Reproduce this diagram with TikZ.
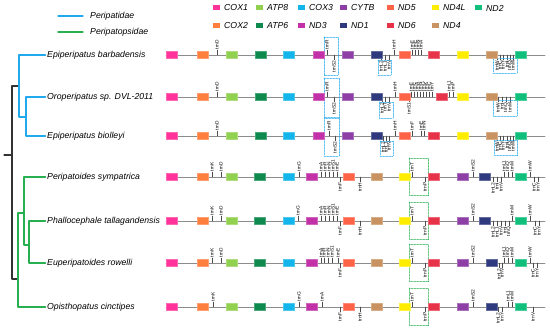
\documentclass[tikz,border=0pt]{standalone}
\usepackage{fontspec}
\setmainfont{Liberation Sans}
\definecolor{COX1}{HTML}{FF339A}
\definecolor{COX2}{HTML}{FF7F3F}
\definecolor{ATP8}{HTML}{92D050}
\definecolor{ATP6}{HTML}{0E8A4E}
\definecolor{COX3}{HTML}{13B5EA}
\definecolor{ND3}{HTML}{C231A8}
\definecolor{CYTB}{HTML}{8E3FA6}
\definecolor{ND1}{HTML}{2F3A7E}
\definecolor{ND5}{HTML}{FF6347}
\definecolor{ND6}{HTML}{E63347}
\definecolor{ND4L}{HTML}{FFED00}
\definecolor{ND4}{HTML}{C99261}
\definecolor{ND2}{HTML}{10BF7C}
\definecolor{pblue}{HTML}{21A9F0}
\definecolor{pgreen}{HTML}{26B050}
\begin{document}
\begin{tikzpicture}[x=1pt, y=-1pt, line join=round, line cap=round,
	font=\fontsize{8.7}{10}\selectfont\itshape,
	gene/.style={fill=#1, draw=#1!75!white, line width=.4pt, minimum width=11pt, minimum height=7pt, inner sep=0pt, anchor=west},
	legbox/.style={fill=#1, minimum width=6.5pt, minimum height=5pt, inner sep=0pt, anchor=west},
	trn/.style={draw=black!70, line width=.4pt},
	trnup/.style={anchor=west, rotate=90, inner sep=.5pt, font=\fontsize{4.8}{5}\selectfont},
	trndn/.style={anchor=east, rotate=90, inner sep=.5pt, font=\fontsize{4.8}{5}\selectfont},
	dotbox/.style={densely dotted, draw=#1, line width=.5pt},
	backbone/.style={draw=black!45, line width=.9pt},
	tree/.style={line width=1.1pt}]
	\useasboundingbox (0,0) rectangle (550,331);
	
	% legends
	\node[anchor=west, inner sep=0pt] (lgA) at (90,16) {Peripatidae};
	\node[anchor=west, inner sep=0pt] (lgB) at (90,32) {Peripatopsidae};
	\coordinate (la) at (58,16);
	\coordinate (lb) at (58,32);
	\draw[draw=pblue, line width=1.2pt] (la) -- ([xshift=-7pt]lgA.west);
	\draw[draw=pgreen, line width=1.2pt] (lb) -- ([xshift=-7pt]lgB.west);
	\foreach \g/\x/\y in {COX1/213/8, ATP8/256/8, COX3/298/8, CYTB/340/8, ND5/387/8, ND4L/432/8, ND2/475/8,
		COX2/213/26, ATP6/256/26, ND3/298/26, ND1/340/26, ND6/387/26, ND4/432/26}
	{\node[legbox=\g] (k\g) at (\x,\y) {};
	\node[anchor=west, inner sep=0pt] (l\g) at ([xshift=11pt]k\g.west) {\g};}
	
	% tree
	\foreach \n/\s/\y in {sp1/Epiperipatus barbadensis/55, sp2/Oroperipatus sp. DVL-2011/97,
		sp3/Epiperipatus biolleyi/136, sp4/Peripatoides sympatrica/177, sp5/Phallocephale tallagandensis/221,
		sp6/Euperipatoides rowelli/263, sp7/Opisthopatus cinctipes/307}
	\node[anchor=west, inner sep=1.5pt] (\n) at (45.5,\y) {\s};
	\coordinate (rt) at (4,155);
	\coordinate (n0) at (12,155);
	\coordinate (b1) at (19,86);
	\coordinate (b2) at (26,117);
	\coordinate (g1) at (18,279);
	\coordinate (g2) at (24,213);
	\coordinate (g3) at (29,245);
	\draw[tree, black!80] (rt) -- (n0) (b1) -| (n0) |- (g1);
	\draw[tree, pblue] (sp1.west) -| (b1) |- (b2);
	\draw[tree, pblue] (sp2.west) -| (b2) |- (sp3.west);
	\draw[tree, pgreen] (g2) -| (g1) |- (sp7.west);
	\draw[tree, pgreen] (sp4.west) -| (g2) |- (g3);
	\draw[tree, pgreen] (sp5.west) -| (g3) |- (sp6.west);
	
	% gene maps
	\foreach \r/\y in {1/55,2/97,3/136,4/177,5/221,6/263,7/307}
	{\coordinate (s\r) at (166,\y);
	\coordinate (e\r) at (545,\y);
	\draw[backbone] (s\r) -- (e\r);}
	
	\foreach \x/\t in {217/trnD,327/trnR,394/trnH,412/trnF,415/trnE,418/trnN,421/trnA}
	\draw[trn] (\x,55) -- ++(0,-5) node[trnup] (u1-\x) {\t};
	\foreach \x/\t in {334/trnS2,381/trnL2,385/trnL1,389/trnV,497/trnW,500/trnC,503/trnY,507/trnI,510/trnQ,513/trnM}
	\draw[trn] (\x,55) -- ++(0,5) node[trndn] (d1-\x) {\t};
	
	\foreach \x/\t in {217/trnD,327/trnR,395/trnH,411/trnF,414/trnE,417/trnA,420/trnN,423/trnG,426/trnK,429/trnC,432/trnY,449/trnL1,453/trnP}
	\draw[trn] (\x,97) -- ++(0,-5) node[trnup] (u2-\x) {\t};
	\foreach \x/\t in {334/trnS2,382/trnL2,385/trnT,389/trnV,409/trnS1,498/trnW,502/trnI,506/trnQ,510/trnM}
	\draw[trn] (\x,97) -- ++(0,5) node[trndn] (d2-\x) {\t};
	
	\foreach \x/\t in {217/trnD,329/trnR,395/trnH,412/trnF,421/trnE,424/trnN}
	\draw[trn] (\x,136) -- ++(0,-5) node[trnup] (u3-\x) {\t};
	\foreach \x/\t in {335/trnS2,383/trnL2,386/trnL1,389/trnV,497/trnW,500/trnC,503/trnY,507/trnI,510/trnQ,513/trnM}
	\draw[trn] (\x,136) -- ++(0,5) node[trndn] (d3-\x) {\t};
	
	\foreach \x/\t in {212/trnK,221/trnD,299/trnG,321/trnA,325/trnR,329/trnN,333/trnS1,337/trnE,412/trnT,473/trnS2,504/trnL1,508/trnQ,512/trnM,530/trnW}
	\draw[trn] (\x,177) -- ++(0,-5) node[trnup] (u4-\x) {\t};
	\foreach \x/\t in {340/trnF,360/trnH,425/trnP,493/trnL2,497/trnI,501/trnV,534/trnC,538/trnY}
	\draw[trn] (\x,177) -- ++(0,5) node[trndn] (d4-\x) {\t};
	
	\foreach \x/\t in {212/trnK,221/trnD,298/trnG,321/trnA,325/trnR,329/trnN,333/trnS1,337/trnE,412/trnT,473/trnS2,512/trnM,530/trnW}
	\draw[trn] (\x,221) -- ++(0,-5) node[trnup] (u5-\x) {\t};
	\foreach \x/\t in {340/trnF,360/trnH,425/trnP,493/trnL2,497/trnL1,501/trnV,505/trnI,509/trnQ,535/trnC,539/trnY}
	\draw[trn] (\x,221) -- ++(0,5) node[trndn] (d5-\x) {\t};
	
	\foreach \x/\t in {212/trnK,221/trnD,321/trnA,324/trnR,328/trnN,332/trnS1,338/trnE,412/trnT,473/trnS2,504/trnL1,508/trnQ,512/trnM,530/trnW}
	\draw[trn] (\x,263) -- ++(0,-5) node[trnup] (u6-\x) {\t};
	\foreach \x/\t in {340/trnF,425/trnP,499/trnL2,502/trnV,533/trnC,537/trnY}
	\draw[trn] (\x,263) -- ++(0,5) node[trndn] (d6-\x) {\t};
	
	\foreach \x/\t in {213/trnK,299/trnG,322/trnA,412/trnT,473/trnS2,508/trnL1,512/trnM}
	\draw[trn] (\x,307) -- ++(0,-5) node[trnup] (u7-\x) {\t};
	\foreach \x/\t in {340/trnF,360/trnH,425/trnP,498/trnL2,502/trnY,533/trnV}
	\draw[trn] (\x,307) -- ++(0,5) node[trndn] (d7-\x) {\t};
	
	\draw[dotbox=pblue] (324,37) rectangle (338,75) (378,60) rectangle (391,75) (493,58) rectangle (517,73);
	\draw[dotbox=pblue] (324,78) rectangle (339,118) (379,102) rectangle (393,118) (493,100) rectangle (517,116);
	\draw[dotbox=pblue] (324,117) rectangle (339,156) (380,141) rectangle (393,156) (494,140) rectangle (517,155);
	\foreach \y in {177,221,263,307}
	\draw[dotbox=pgreen] (409,\y-19) rectangle (428,\y+18);
	
	\foreach \r/\y/\d in {1/55/428,2/97/436,3/136/428}
	\foreach \g/\x in {COX1/166,COX2/197,ATP8/226,ATP6/255,COX3/283,ND3/313,CYTB/342,ND1/371,ND5/399,ND6/\d,ND4L/457,ND4/486,ND2/515}
	\node[gene=\g] (r\r\g) at (\x,\y) {};
	\foreach \r/\y/\d in {4/177/479,5/221/479,6/263/486,7/307/486}
	\foreach \g/\x in {COX1/166,COX2/197,ATP8/226,ATP6/254,COX3/283,ND3/306,ND5/343,ND4/371,ND4L/399,ND6/428,CYTB/457,ND1/\d,ND2/515}
	\node[gene=\g] (r\r\g) at (\x,\y) {};
\end{tikzpicture}
\end{document}
